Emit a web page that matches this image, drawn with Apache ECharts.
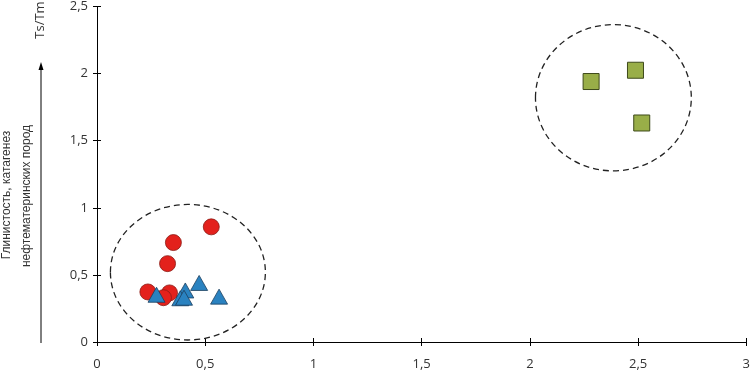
<!DOCTYPE html>
<html><head><meta charset="utf-8">
<script src="https://cdn.jsdelivr.net/npm/echarts@6/dist/echarts.min.js"></script>
<style>html,body{margin:0;padding:0;background:#fff}#c{width:753px;height:376px}</style>
</head><body><div id="c"></div>
<script>
// Data
const xTicks = [0, 0.5, 1, 1.5, 2, 2.5, 3];
const yTicks = [0, 0.5, 1, 1.5, 2, 2.5];
const redCircles = [[0.528,0.858],[0.353,0.741],[0.326,0.584],[0.235,0.373],[0.335,0.366],[0.307,0.33]];
const blueTriangles = [[0.275,0.352],[0.408,0.384],[0.385,0.326],[0.402,0.33],[0.472,0.44],[0.564,0.338]];
const greenSquares = [[2.283,1.941],[2.488,2.025],[2.517,1.632]];
// ellipses: [centerX, centerY, radiusX, radiusY] in data units
const ellipses = [[0.42,0.52,0.358,0.505],[2.386,1.82,0.36,0.545]];
const yTitle = 'Ts/Tm';
const sideLine1 = 'Глинистость, катагенез';
const sideLine2 = 'нефтематеринских пород';

const fmt = v => String(v).replace('.', ',');
const font = 'Open Sans';
const baseAxis = {
  type: 'value', min: 0, splitLine: {show: false},
  axisLine: {show: true, onZero: false, lineStyle: {color: '#000', width: 1}},
  axisTick: {show: true, length: 4, lineStyle: {color: '#000'}},
};
const chart = echarts.init(document.getElementById('c'));
chart.setOption({
  animation: false,
  backgroundColor: '#fff',
  grid: {left: 97, right: 3, top: 5, bottom: 34},
  xAxis: [
    Object.assign({}, baseAxis, {max: 3, interval: 0.5,
      axisLabel: {formatter: fmt, color: '#333', fontFamily: font, fontSize: 13, margin: 16}}),
    Object.assign({}, baseAxis, {max: 3, interval: 0.5, position: 'bottom',
      axisLine: {show: false}, axisLabel: {show: false},
      axisTick: {show: true, inside: true, length: 4, lineStyle: {color: '#000'}}})
  ],
  yAxis: [
    Object.assign({}, baseAxis, {max: 2.5, interval: 0.5,
      axisLabel: {formatter: fmt, color: '#333', fontFamily: font, fontSize: 13, margin: 9}}),
    Object.assign({}, baseAxis, {max: 2.5, interval: 0.5, position: 'left',
      axisLine: {show: false}, axisLabel: {show: false},
      axisTick: {show: true, inside: true, length: 4, lineStyle: {color: '#000'}}})
  ],
  graphic: [
    {type: 'text', x: 40, y: 20, rotation: Math.PI/2,
      style: {text: yTitle, font: '13px "Open Sans"', fill: '#333', align: 'center', verticalAlign: 'middle'}},
    {type: 'text', x: 7, y: 195, rotation: Math.PI/2,
      style: {text: sideLine1, font: '12px "Liberation Sans"', fill: '#333', align: 'center', verticalAlign: 'middle'}},
    {type: 'text', x: 27, y: 196, rotation: Math.PI/2,
      style: {text: sideLine2, font: '12px "Liberation Sans"', fill: '#333', align: 'center', verticalAlign: 'middle'}},
    {type: 'line', shape: {x1: 41, y1: 343, x2: 41, y2: 68}, style: {stroke: '#000', lineWidth: 1}},
    {type: 'polygon', shape: {points: [[41, 62], [38.5, 70], [43.5, 70]]}, style: {fill: '#000'}}
  ],
  series: [
    {
      type: 'custom', data: ellipses, silent: true, z: 1,
      renderItem: function (params, api) {
        const c = api.coord([api.value(0), api.value(1)]);
        const s = api.size([api.value(2), api.value(3)]);
        return {type: 'ellipse', shape: {cx: c[0], cy: c[1], rx: s[0], ry: s[1]},
          style: {fill: null, stroke: '#222', lineWidth: 1.3, lineDash: [6, 4]}};
      }
    },
    {type: 'scatter', data: redCircles, symbol: 'circle', symbolSize: 16, z: 3,
      itemStyle: {color: '#e3211c', borderColor: '#8a1a14', borderWidth: 0.8, opacity: 1}},
    {type: 'scatter', data: blueTriangles, symbol: 'triangle', symbolSize: [17, 15], z: 4,
      itemStyle: {color: '#2a82c0', borderColor: '#1b3f5e', borderWidth: 0.8, opacity: 1}},
    {type: 'scatter', data: greenSquares, symbol: 'rect', symbolSize: 16, z: 3,
      itemStyle: {color: '#99ae48', borderColor: '#3e4a1a', borderWidth: 1, opacity: 1}}
  ]
});
</script></body></html>
